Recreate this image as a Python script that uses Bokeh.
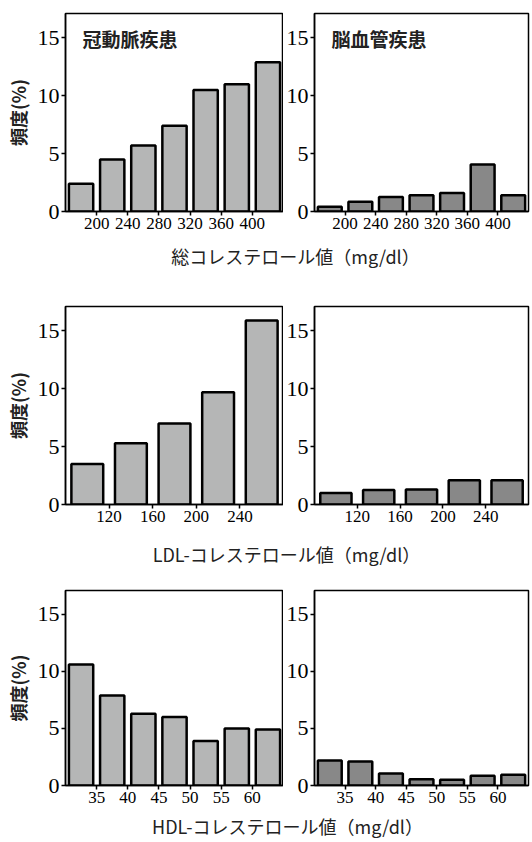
from bokeh.plotting import figure
from bokeh.layouts import column, row
from bokeh.models import FixedTicker, Label, Range1d, ColumnDataSource
from bokeh.embed import file_html
from bokeh.resources import INLINE

# ---- data ----
tc_edges = [160, 200, 240, 280, 320, 360, 400, 440]
tc_ticks = [200, 240, 280, 320, 360, 400]
tc_chd = [2.4, 4.5, 5.7, 7.4, 10.5, 11.0, 12.9]
tc_cvd = [0.4, 0.85, 1.25, 1.4, 1.6, 4.05, 1.4]

ldl_edges = [80, 120, 160, 200, 240, 280]
ldl_ticks = [120, 160, 200, 240]
ldl_chd = [3.5, 5.3, 7.0, 9.7, 15.9]
ldl_cvd = [1.0, 1.25, 1.3, 2.1, 2.1]

hdl_edges = [30, 35, 40, 45, 50, 55, 60, 65]
hdl_ticks = [35, 40, 45, 50, 55, 60]
hdl_chd = [10.6, 7.9, 6.3, 6.0, 3.9, 5.0, 4.9]
hdl_cvd = [2.2, 2.1, 1.05, 0.55, 0.5, 0.85, 0.95]

titles = ["冠動脈疾患", "脳血管疾患"]
xlabels = ["総コレステロール値（mg/dl）", "LDL-コレステロール値（mg/dl）", "HDL-コレステロール値（mg/dl）"]
ylabel = "頻度(%)"
yticks = [0, 5, 10, 15]

LIGHT = "#b5b6b6"
DARK = "#888888"
NUM_FONT = "Liberation Serif"
JP_FONT = "Noto Sans CJK JP"


def panel(edges, ticks, vals, color, left, top, frame_h, bottom, frac, title=None):
    if left:
        w, bl, br = 283, 65, 0
    else:
        w, bl, br = 248, 31, 3
    h = top + frame_h + bottom
    p = figure(width=w, height=h, output_backend="svg", toolbar_location=None,
               x_range=Range1d(edges[0], edges[-1]), y_range=Range1d(0, 17.1),
               min_border_left=bl, min_border_right=br,
               min_border_top=top, min_border_bottom=bottom)
    bw = edges[1] - edges[0]
    centers = [(edges[i] + edges[i + 1]) / 2 for i in range(len(vals))]
    src = ColumnDataSource(dict(x=centers, top=vals))
    p.vbar(x="x", top="top", bottom=0, width=bw * frac, source=src,
           fill_color=color, line_color="black", line_width=2.5)
    p.grid.visible = False
    p.outline_line_color = "black"
    p.outline_line_width = 1.5
    p.background_fill_color = "white"
    p.border_fill_color = "white"
    for ax in (p.xaxis[0], p.yaxis[0]):
        ax.axis_line_color = "black"
        ax.axis_line_width = 1.5
        ax.major_tick_line_color = "black"
        ax.major_tick_line_width = 1.5
        ax.major_tick_out = 4
        ax.major_tick_in = 0
        ax.minor_tick_line_color = None
        ax.major_label_text_font = NUM_FONT
        ax.major_label_text_color = "black"
    xa = p.xaxis[0]
    xa.ticker = FixedTicker(ticks=ticks)
    xa.major_label_text_font_size = "17px"
    xa.major_label_standoff = 2
    ya = p.yaxis[0]
    ya.ticker = FixedTicker(ticks=yticks)
    ya.major_label_text_font_size = "22px"
    ya.major_label_standoff = 2
    if left:
        ya.axis_label = ylabel
        ya.axis_label_text_font = JP_FONT
        ya.axis_label_text_font_size = "18px"
        ya.axis_label_text_font_style = "bold"
        ya.axis_label_text_color = "#222222"
        ya.axis_label_standoff = 4
    if title:
        p.add_layout(Label(x=17, y=frame_h - 25, x_units="screen", y_units="screen",
                           text=title, text_font=JP_FONT, text_font_size="19px",
                           text_font_style="bold", text_color="#222222",
                           text_baseline="middle"))
    return p


def label_fig(text, h, cx, cy):
    f = figure(width=531, height=h, output_backend="svg", toolbar_location=None,
               x_range=Range1d(0, 531), y_range=Range1d(0, h),
               min_border=0, outline_line_color=None)
    f.axis.visible = False
    f.grid.visible = False
    f.add_layout(Label(x=cx, y=h - cy, text=text, text_font=JP_FONT,
                       text_font_size="18px", text_color="#222222",
                       text_align="center", text_baseline="middle"))
    return f


r1 = row(panel(tc_edges, tc_ticks, tc_chd, LIGHT, True, 13, 198, 29, 0.78, titles[0]),
         panel(tc_edges, tc_ticks, tc_cvd, DARK, False, 13, 198, 29, 0.78, titles[1]))
r2 = row(panel(ldl_edges, ldl_ticks, ldl_chd, LIGHT, True, 36, 198, 29, 0.73),
         panel(ldl_edges, ldl_ticks, ldl_cvd, DARK, False, 36, 198, 29, 0.73))
r3 = row(panel(hdl_edges, hdl_ticks, hdl_chd, LIGHT, True, 17, 195, 27, 0.78),
         panel(hdl_edges, hdl_ticks, hdl_cvd, DARK, False, 17, 195, 27, 0.78))

layout = column(r1, label_fig(xlabels[0], 30, 295, 15), r2,
                label_fig(xlabels[1], 40, 286, 20),
                r3, label_fig(xlabels[2], 28, 287, 13))

open("out.html", "w").write(file_html(layout, INLINE))
